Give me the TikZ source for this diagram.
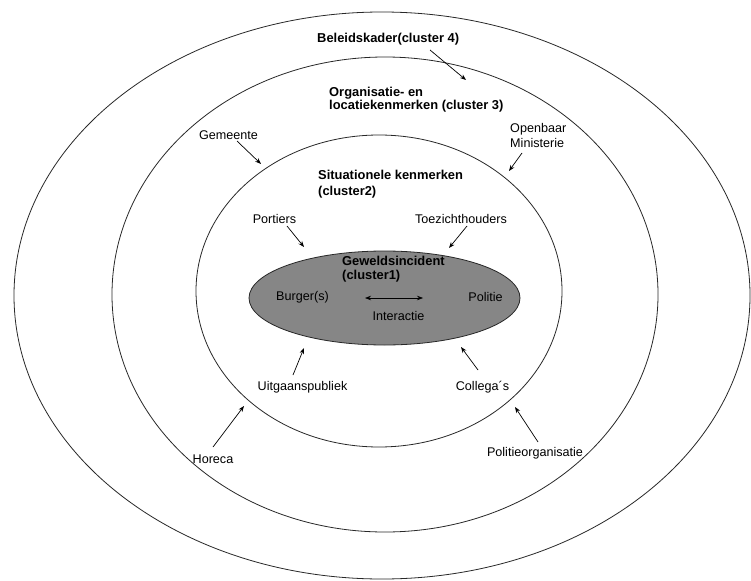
\documentclass[tikz,border=0pt]{standalone}
\usepackage{fontspec}
\setmainfont{Liberation Sans}
\usetikzlibrary{arrows.meta}
\definecolor{incgray}{RGB}{134,134,134}
\definecolor{linegray}{RGB}{40,40,40}
\begin{document}
\begin{tikzpicture}[x=1pt,y=-1pt,
  ring/.style={draw=linegray, line width=0.8pt},
  lbl/.style={font=\fontsize{12.6}{15}\selectfont, inner sep=0pt, text=black},
  blbl/.style={inner sep=0pt, text=black, font=\fontsize{12.9}{15}\selectfont\bfseries},
  arr/.style={-{Stealth[length=6pt,width=4.5pt]}, line width=0.7pt, draw=black},
  darr/.style={{Stealth[length=6pt,width=4.5pt]}-{Stealth[length=6pt,width=4.5pt]}, line width=0.7pt, draw=black}]
\useasboundingbox (0,0) rectangle (751,580);
\fill[white] (0,0) rectangle (751,580);
% rings
\draw[ring] (382,295.5) ellipse [x radius=368pt, y radius=283.5pt];
\draw[ring] (385,294.5) ellipse [x radius=273pt, y radius=237.5pt];
\draw[ring] (379,291) ellipse [x radius=183pt, y radius=156pt];
\draw[ring, fill=incgray] (384.5,298) ellipse [x radius=135.5pt, y radius=47pt];
% cluster titles
\node[blbl, anchor=west] (c4) at (317,39) {Beleidskader(cluster 4)};
\node[blbl, anchor=west, align=left, font=\fontsize{12.9}{13}\selectfont\bfseries] (c3) at (329,99.5) {Organisatie- en\\locatiekenmerken (cluster 3)};
\node[blbl, anchor=west, align=left, font=\fontsize{12.9}{16}\selectfont\bfseries] (c2) at (318,184.5) {Situationele kenmerken\\(cluster2)};
\node[blbl, anchor=west, align=left, font=\fontsize{12.9}{14}\selectfont\bfseries] (c1) at (342,269) {Geweldsincident\\(cluster1)};
% labels
\node[lbl] (gem) at (228.5,135) {Gemeente};
\node[lbl, anchor=west, align=left, font=\fontsize{12.6}{15}\selectfont] (om) at (510,135.5) {Openbaar\\Ministerie};
\node[lbl] (por) at (274.5,219) {Portiers};
\node[lbl] (toe) at (461,219) {Toezichthouders};
\node[lbl] (bur) at (302.5,297) {Burger(s)};
\node[lbl] (pol) at (485.5,297) {Politie};
\node[lbl] (int) at (398.5,316) {Interactie};
\node[lbl] (uit) at (302.5,387) {Uitgaanspubliek};
\node[lbl] (col) at (482.5,387) {Collega´s};
\node[lbl] (hor) at (213,459) {Horeca};
\node[lbl] (pok) at (535,453) {Politieorganisatie};
% arrow end points
\coordinate (c4a) at (430,50);   \coordinate (c4b) at (466,80);
\coordinate (gema) at (237,141); \coordinate (gemb) at (261,164);
\coordinate (oma) at (522,153);  \coordinate (omb) at (509,171);
\coordinate (pora) at (287,226); \coordinate (porb) at (304,247);
\coordinate (toea) at (467,226); \coordinate (toeb) at (449,248);
\coordinate (uita) at (293,375); \coordinate (uitb) at (304,348);
\coordinate (cola) at (478,370); \coordinate (colb) at (461,347);
\coordinate (poka) at (538,442); \coordinate (pokb) at (515,407);
\coordinate (hora) at (213,447); \coordinate (horb) at (244,406);
\coordinate (inta) at (365,298); \coordinate (intb) at (423,298);
\draw[arr] (c4a) -- (c4b);
\draw[arr] (gema) -- (gemb);
\draw[arr] (oma) -- (omb);
\draw[arr] (pora) -- (porb);
\draw[arr] (toea) -- (toeb);
\draw[arr] (uita) -- (uitb);
\draw[arr] (cola) -- (colb);
\draw[arr] (poka) -- (pokb);
\draw[arr] (hora) -- (horb);
\draw[darr] (inta) -- (intb);
\end{tikzpicture}
\end{document}
